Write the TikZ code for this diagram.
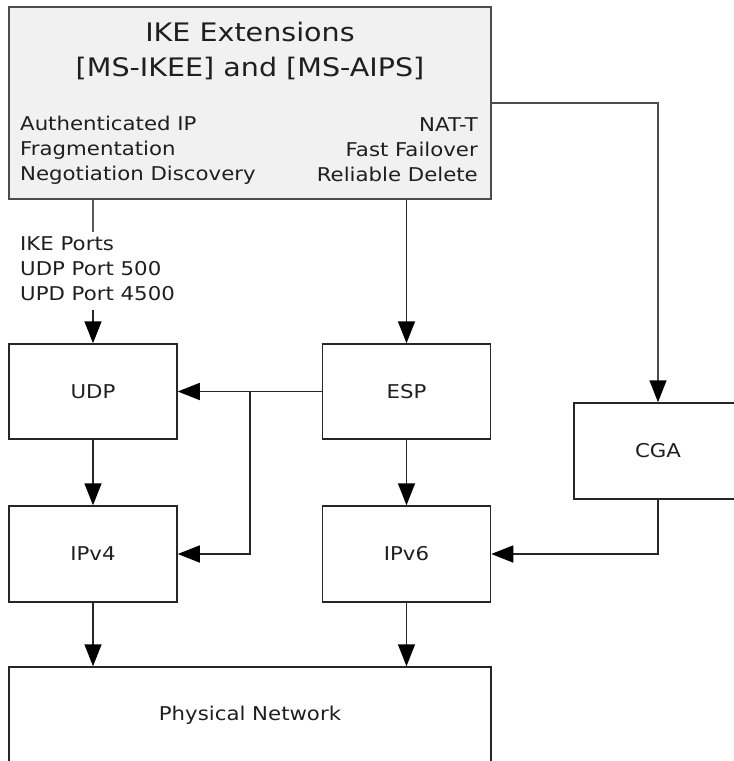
\documentclass[tikz,border=0pt]{standalone}
\usepackage{fontspec}
\setmainfont{DejaVu Sans}[FakeStretch=1.12]
\usetikzlibrary{arrows.meta}
\definecolor{inkline}{HTML}{262626}
\definecolor{headfill}{HTML}{F1F1F1}
\begin{document}
\begin{tikzpicture}[x=1pt,y=-1pt,
  layer/.style={draw=inkline,line width=1.5pt,fill=white,inner sep=0pt,
    minimum width=168pt,minimum height=95pt,
    font=\fontsize{19}{25}\selectfont,text=black!88},
  label text/.style={inner sep=0pt,font=\fontsize{19}{25}\selectfont,text=black!88},
  wire/.style={draw=inkline,line width=1.5pt},
  flow/.style={wire,-{Triangle[length=22pt,width=17pt,color=black]}}]
\useasboundingbox (0,0) rectangle (734,761);
\clip (0,0) rectangle (734,761);

% extension header box
\node[layer,fill=headfill,draw=black!70,minimum width=482pt,minimum height=192pt] (ike) at (250,103) {};
\node[label text,align=center,font=\fontsize{25.5}{35}\selectfont] (ikeTitle) at (250,51)
  {IKE Extensions\\{[MS-IKEE] and [MS-AIPS]}};
\node[label text,anchor=west,align=left] (ikeLeft) at (20,150)
  {Authenticated IP\\Fragmentation\\Negotiation Discovery};
\node[label text,anchor=east,align=right] (ikeRight) at (478,150)
  {NAT-T\\Fast Failover\\Reliable Delete};

% protocol layers
\node[layer] (udp)  at (93,391.5)  {UDP};
\node[layer] (esp)  at (406.5,391.5) {ESP};
\node[layer,minimum height=96pt] (ipv4) at (93,554)  {IPv4};
\node[layer,minimum height=96pt] (ipv6) at (406.5,554) {IPv6};
\node[layer,minimum height=96pt] (cga)  at (658,451) {CGA};
\node[layer,minimum width=482pt,minimum height=96pt] (phys) at (250,715) {Physical Network};

% IKE port label on the UDP feed
\node[label text,anchor=west,align=left] (ports) at (20,269)
  {IKE Ports\\UDP Port 500\\UPD Port 4500};
\coordinate (portsTop) at (93,232);
\coordinate (portsBot) at (93,310);
\draw[wire,draw=black!65] (ike.south -| udp.north) -- (portsTop);
\draw[flow] (portsBot) -- (udp.north);

% connectors
\draw[flow] (ike.south -| esp.north) -- (esp.north);
\coordinate (cgaTurn) at (658,103);
\draw[flow,draw=black!70] (ike.east |- cgaTurn) -- (cgaTurn) -- (cga.north);
\draw[flow] (esp.west) -- (udp.east);
\coordinate (split) at (250,391.5);
\draw[flow] (split) -- (split |- ipv4.east) -- (ipv4.east);
\draw[flow] (udp.south) -- (ipv4.north);
\draw[flow] (esp.south) -- (ipv6.north);
\draw[flow] (ipv4.south) -- (ipv4.south |- phys.north);
\draw[flow] (ipv6.south) -- (ipv6.south |- phys.north);
\draw[flow] (cga.south) -- (cga.south |- ipv6.east) -- (ipv6.east);
\end{tikzpicture}
\end{document}
